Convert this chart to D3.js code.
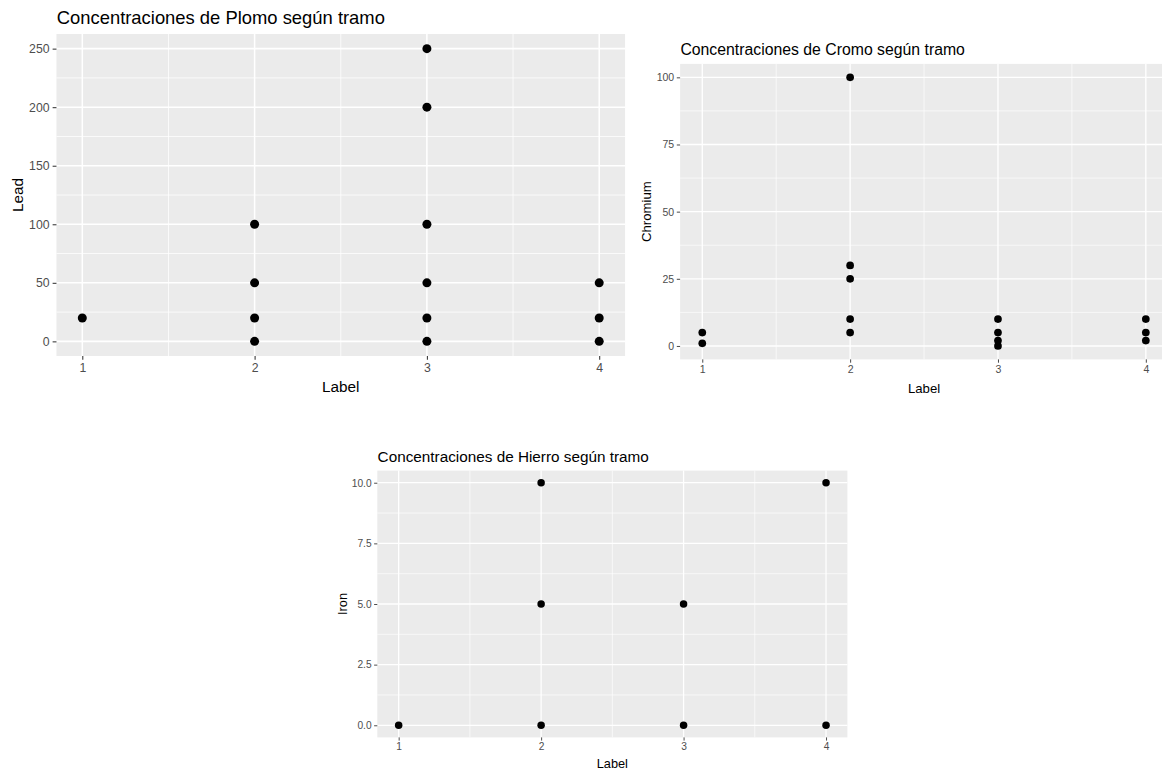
<!DOCTYPE html>
<html>
<head>
<meta charset="utf-8">
<script src="https://cdnjs.cloudflare.com/ajax/libs/d3/7.8.5/d3.min.js"></script>
<style>
  html, body { margin: 0; padding: 0; background: #ffffff; }
  svg { display: block; font-family: "Liberation Sans", Arial, sans-serif; }
</style>
</head>
<body>
<svg id="chart" width="1162" height="772"></svg>
<script>
// ---- data ----
const xCategories = [1, 2, 3, 4];

const leadTitle = "Concentraciones de Plomo según tramo";
const leadLabel = [1, 2, 2, 2, 2, 3, 3, 3, 3, 3, 3, 4, 4, 4];
const leadValue = [20, 0, 20, 50, 100, 0, 20, 50, 100, 200, 250, 0, 20, 50];
const leadTicks = [0, 50, 100, 150, 200, 250];
const leadTickLabels = ["0", "50", "100", "150", "200", "250"];

const chromiumTitle = "Concentraciones de Cromo según tramo";
const chromiumLabel = [1, 1, 2, 2, 2, 2, 2, 3, 3, 3, 3, 4, 4, 4];
const chromiumValue = [1, 5, 5, 10, 25, 30, 100, 0, 2, 5, 10, 2, 5, 10];
const chromiumTicks = [0, 25, 50, 75, 100];
const chromiumTickLabels = ["0", "25", "50", "75", "100"];

const ironTitle = "Concentraciones de Hierro según tramo";
const ironLabel = [1, 2, 2, 2, 3, 3, 4, 4];
const ironValue = [0, 0, 5, 10, 0, 5, 0, 10];
const ironTicks = [0, 2.5, 5, 7.5, 10];
const ironTickLabels = ["0.0", "2.5", "5.0", "7.5", "10.0"];

// ---- drawing ----
const svg = d3.select("#chart");

function drawPanel(cfg) {
  const g = svg.append("g");
  const xExt = d3.extent(cfg.xs);
  const yExt = d3.extent(cfg.ys);
  const xPad = (xExt[1] - xExt[0]) * 0.05;
  const yPad = (yExt[1] - yExt[0]) * 0.05;
  const x = d3.scaleLinear().domain([xExt[0] - xPad, xExt[1] + xPad]).range([cfg.left, cfg.right]);
  const y = d3.scaleLinear().domain([yExt[0] - yPad, yExt[1] + yPad]).range([cfg.bottom, cfg.top]);
  const s = cfg.scale;

  // panel background
  g.append("rect")
    .attr("x", cfg.left).attr("y", cfg.top)
    .attr("width", cfg.right - cfg.left).attr("height", cfg.bottom - cfg.top)
    .attr("fill", "#EBEBEB");

  // minor gridlines
  const xMinor = d3.pairs(cfg.xTicks).map(p => (p[0] + p[1]) / 2);
  const yMinor = d3.pairs(cfg.yTicks).map(p => (p[0] + p[1]) / 2);
  g.selectAll(".xminor").data(xMinor).enter().append("line")
    .attr("x1", d => x(d)).attr("x2", d => x(d))
    .attr("y1", cfg.top).attr("y2", cfg.bottom)
    .attr("stroke", "#fff").attr("stroke-width", 0.55 * s);
  g.selectAll(".yminor").data(yMinor).enter().append("line")
    .attr("y1", d => y(d)).attr("y2", d => y(d))
    .attr("x1", cfg.left).attr("x2", cfg.right)
    .attr("stroke", "#fff").attr("stroke-width", 0.55 * s);
  // major gridlines
  g.selectAll(".xmajor").data(cfg.xTicks).enter().append("line")
    .attr("x1", d => x(d)).attr("x2", d => x(d))
    .attr("y1", cfg.top).attr("y2", cfg.bottom)
    .attr("stroke", "#fff").attr("stroke-width", 1.1 * s);
  g.selectAll(".ymajor").data(cfg.yTicks).enter().append("line")
    .attr("y1", d => y(d)).attr("y2", d => y(d))
    .attr("x1", cfg.left).attr("x2", cfg.right)
    .attr("stroke", "#fff").attr("stroke-width", 1.1 * s);

  // axes
  const tickLen = 2.75 * s;
  const tickPad = 2.2 * s;
  const tickFont = 8.8 * s;
  const xAxis = d3.axisBottom(x).tickValues(cfg.xTicks).tickSize(tickLen).tickPadding(tickPad)
    .tickFormat(d3.format("d"));
  const yAxis = d3.axisLeft(y).tickValues(cfg.yTicks).tickSize(tickLen).tickPadding(tickPad)
    .tickFormat((d, i) => cfg.yTickLabels[i]);

  const gx = g.append("g").attr("transform", `translate(0,${cfg.bottom})`).call(xAxis);
  const gy = g.append("g").attr("transform", `translate(${cfg.left},0)`).call(yAxis);
  [gx, gy].forEach(a => {
    a.select(".domain").remove();
    a.selectAll(".tick line").attr("stroke", "#333333").attr("stroke-width", 0.75 * s);
    a.selectAll(".tick text").attr("fill", "#4D4D4D")
      .style("font-size", tickFont + "px")
      .style("font-family", '"Liberation Sans", Arial, sans-serif');
  });

  // points
  g.selectAll(".pt").data(cfg.xs.map((v, i) => [v, cfg.ys[i]])).enter().append("circle")
    .attr("cx", d => x(d[0])).attr("cy", d => y(d[1]))
    .attr("r", cfg.r).attr("fill", "#000");

  // title
  g.append("text").attr("x", cfg.left + 0.3).attr("y", cfg.titleY)
    .style("font-size", (13.2 * s) + "px").attr("fill", "#000")
    .text(cfg.title);

  // axis titles
  g.append("text").attr("x", (cfg.left + cfg.right) / 2).attr("y", cfg.xTitleY)
    .attr("text-anchor", "middle").style("font-size", (11 * s) + "px").attr("fill", "#000")
    .text("Label");
  g.append("text")
    .attr("transform", `translate(${cfg.yTitleX},${(cfg.top + cfg.bottom) / 2}) rotate(-90)`)
    .attr("text-anchor", "middle").style("font-size", (11 * s) + "px").attr("fill", "#000")
    .text(cfg.yName);
}

drawPanel({
  title: leadTitle, yName: "Lead", xs: leadLabel, ys: leadValue,
  xTicks: xCategories, yTicks: leadTicks, yTickLabels: leadTickLabels,
  left: 56.45, right: 625.05, top: 34, bottom: 356, scale: 1.394, r: 4.5,
  titleY: 24, xTitleY: 392, yTitleX: 22.5
});

drawPanel({
  title: chromiumTitle, yName: "Chromium", xs: chromiumLabel, ys: chromiumValue,
  xTicks: xCategories, yTicks: chromiumTicks, yTickLabels: chromiumTickLabels,
  left: 680.1, right: 1168, top: 63.9, bottom: 359.4, scale: 1.197, r: 3.85,
  titleY: 54.5, xTitleY: 393, yTitleX: 651
});

drawPanel({
  title: ironTitle, yName: "Iron", xs: ironLabel, ys: ironValue,
  xTicks: xCategories, yTicks: ironTicks, yTickLabels: ironTickLabels,
  left: 377.3, right: 847.4, top: 470.6, bottom: 737.4, scale: 1.16, r: 3.75,
  titleY: 462, xTitleY: 768, yTitleX: 346.7
});
</script>
</body>
</html>
